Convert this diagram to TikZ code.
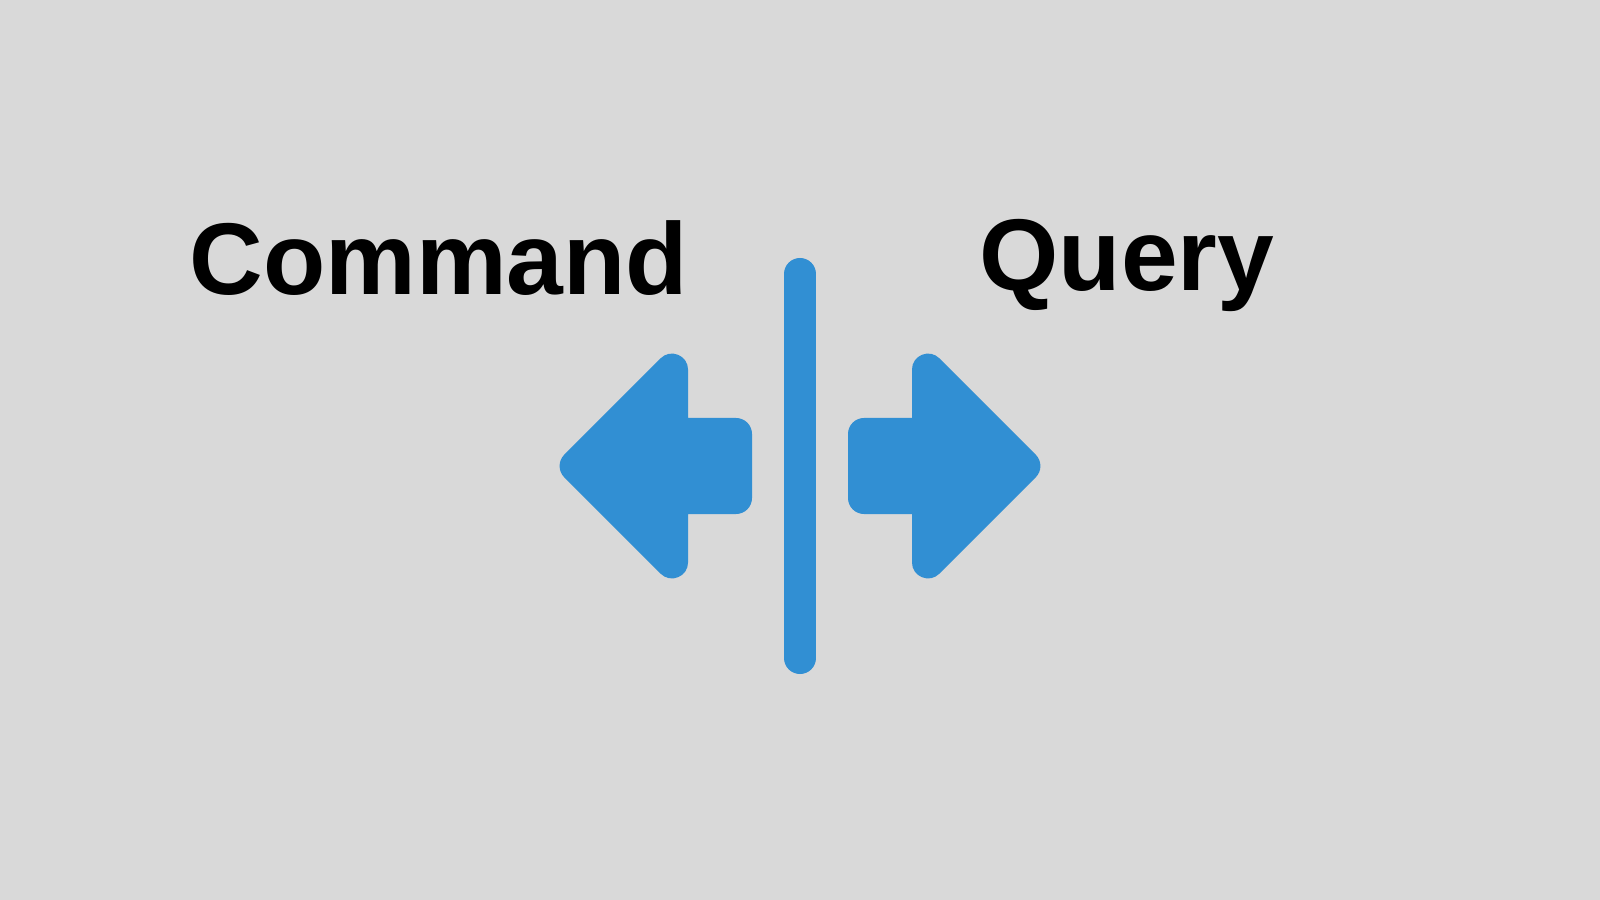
\documentclass[tikz,border=0pt]{standalone}
\usepackage{fontspec}
\setmainfont{Liberation Sans}
\definecolor{bgGrey}{HTML}{D9D9D9}
\definecolor{splitBlue}{HTML}{318FD3}
\begin{document}
\begin{tikzpicture}[x=0.01cm,y=-0.01cm,
  title/.style={anchor=base, inner sep=0pt, font=\fontsize{29pt}{35pt}\selectfont\bfseries},
  blueshape/.style={fill=splitBlue, draw=splitBlue, line width=0.32cm, line join=round},
  divider/.style={draw=splitBlue, line width=0.32cm, line cap=round}]
\fill[bgGrey] (0,0) rectangle (1600,900);
\useasboundingbox (0,0) rectangle (1600,900);

\node[title] (command) at (439,294) {Command};
\node[title] (query) at (1127,290) {Query};

% split line
\draw[divider] (800,274) -- (800,658);

% left arrow
\path[blueshape] (575.6,466) -- (672,369.6) -- (672,434) -- (736,434)
  -- (736,498) -- (672,498) -- (672,562.4) -- cycle;
% right arrow
\path[blueshape] (1024.4,466) -- (928,369.6) -- (928,434) -- (864,434)
  -- (864,498) -- (928,498) -- (928,562.4) -- cycle;
\end{tikzpicture}
\end{document}
